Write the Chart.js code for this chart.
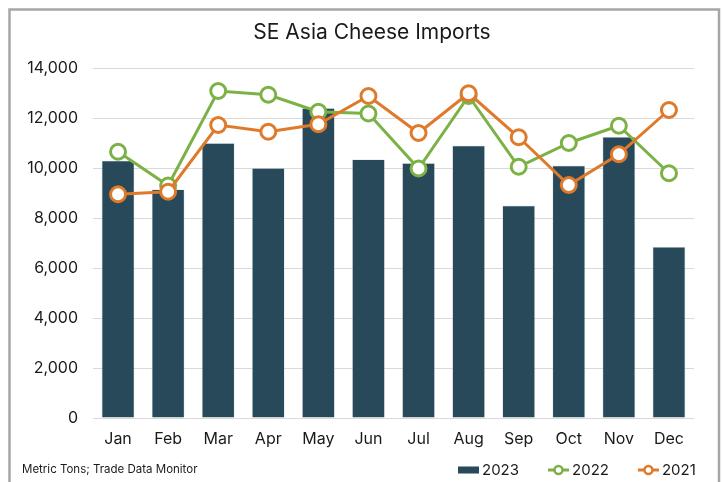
<!DOCTYPE html>
<html>
<head>
<meta charset="utf-8">
<title>SE Asia Cheese Imports</title>
<script src="https://cdn.jsdelivr.net/npm/chart.js@4.4.1/dist/chart.umd.min.js"></script>
<style>
  html, body { margin: 0; padding: 0; background: #ffffff; }
  #wrap { width: 723px; height: 482px; position: relative; }
</style>
</head>
<body>
<div id="wrap"><canvas id="chart" width="723" height="482"></canvas></div>
<script>
// Monthly cheese imports into Southeast Asia, metric tons
const months = ['Jan', 'Feb', 'Mar', 'Apr', 'May', 'Jun', 'Jul', 'Aug', 'Sep', 'Oct', 'Nov', 'Dec'];
const imports2023 = [10300, 9150, 11000, 10000, 12400, 10350, 10200, 10900, 8500, 10100, 11250, 6850];
const imports2022 = [10650, 9300, 13080, 12930, 12250, 12180, 9980, 12880, 10050, 11000, 11690, 9790];
const imports2021 = [8950, 9050, 11720, 11450, 11750, 12880, 11400, 12990, 11230, 9320, 10550, 12320];
const yTicks = [0, 2000, 4000, 6000, 8000, 10000, 12000, 14000];

const titleText = 'SE Asia Cheese Imports';
const sourceText = 'Metric Tons; Trade Data Monitor';

const COLOR_BAR = '#27495a';
const COLOR_2022 = '#7cb146';
const COLOR_2021 = '#e07a2b';
const FONT = 'Inter, "Liberation Sans", Arial, sans-serif';

// Frame, title, source note and legend drawn around the plot
const decorations = {
  id: 'decorations',
  beforeDraw(chart) {
    const ctx = chart.ctx;
    ctx.save();
    ctx.fillStyle = '#ffffff';
    ctx.fillRect(0, 0, chart.width, chart.height);
    ctx.restore();
  },
  afterDraw(chart) {
    const ctx = chart.ctx;
    ctx.save();
    // outer frame
    ctx.strokeStyle = '#a6a6a6';
    ctx.lineWidth = 2.5;
    ctx.strokeRect(9.5, 9.5, 709.5, 500);

    // title
    ctx.fillStyle = '#1a1a1a';
    ctx.font = '21px ' + FONT;
    ctx.textAlign = 'center';
    ctx.textBaseline = 'middle';
    ctx.fillText(titleText, 372, 33);

    // source note
    ctx.font = '11.5px ' + FONT;
    ctx.textAlign = 'left';
    ctx.fillStyle = '#1a1a1a';
    ctx.fillText(sourceText, 22, 470);

    // legend
    const ds = chart.data.datasets;
    const items = [ds[0], ds[1], ds[2]];
    let x = 458;
    const y = 470;
    ctx.font = '15px ' + FONT;
    ctx.textBaseline = 'middle';
    items.forEach((d) => {
      if (d.type === 'bar') {
        ctx.fillStyle = d.backgroundColor;
        ctx.fillRect(x, y - 3.5, 21, 7);
      } else {
        ctx.strokeStyle = d.borderColor;
        ctx.lineWidth = 3;
        ctx.beginPath();
        ctx.moveTo(x, y);
        ctx.lineTo(x + 21, y);
        ctx.stroke();
        ctx.beginPath();
        ctx.arc(x + 10.5, y, 4, 0, Math.PI * 2);
        ctx.fillStyle = '#ffffff';
        ctx.fill();
        ctx.lineWidth = 2.5;
        ctx.stroke();
      }
      x += 24;
      ctx.fillStyle = '#1a1a1a';
      ctx.fillText(d.label, x, y);
      x += ctx.measureText(d.label).width + 29;
    });
    ctx.restore();
  }
};

new Chart(document.getElementById('chart'), {
  data: {
    labels: months,
    datasets: [
      {
        type: 'bar',
        label: '2023',
        data: imports2023,
        backgroundColor: COLOR_BAR,
        borderColor: 'rgba(200,214,222,0.55)',
        borderWidth: 0.8,
        categoryPercentage: 1.0,
        barPercentage: 0.66,
        order: 3
      },
      {
        type: 'line',
        label: '2022',
        data: imports2022,
        borderColor: COLOR_2022,
        backgroundColor: '#ffffff',
        borderWidth: 3,
        pointRadius: 7.5,
        pointBorderWidth: 3,
        pointBackgroundColor: '#ffffff',
        pointBorderColor: COLOR_2022,
        tension: 0,
        order: 2
      },
      {
        type: 'line',
        label: '2021',
        data: imports2021,
        borderColor: COLOR_2021,
        backgroundColor: '#ffffff',
        borderWidth: 3,
        pointRadius: 7.5,
        pointBorderWidth: 3,
        pointBackgroundColor: '#ffffff',
        pointBorderColor: COLOR_2021,
        tension: 0,
        order: 1
      }
    ]
  },
  options: {
    responsive: false,
    animation: false,
    devicePixelRatio: 1,
    layout: { padding: { top: 68, left: 20, right: 29, bottom: 0 } },
    plugins: {
      legend: { display: false },
      title: { display: false },
      tooltip: { enabled: false }
    },
    scales: {
      x: {
        grid: { display: false, drawTicks: false },
        border: { display: false },
        ticks: {
          color: '#1a1a1a',
          font: { family: FONT, size: 16 },
          padding: 12,
          maxRotation: 0
        },
        afterFit(scale) { scale.height = 64; }
      },
      y: {
        min: 0,
        max: 14000,
        grid: { color: '#d9d9d9', lineWidth: 1, drawTicks: false },
        border: { display: false },
        afterBuildTicks(scale) { scale.ticks = yTicks.map(v => ({ value: v })); },
        ticks: {
          color: '#1a1a1a',
          font: { family: FONT, size: 16 },
          padding: 15,
          callback: (v) => Number(v).toLocaleString('en-US')
        },
        afterFit(scale) { scale.width = 73; }
      }
    }
  },
  plugins: [decorations]
});
</script>
</body>
</html>
